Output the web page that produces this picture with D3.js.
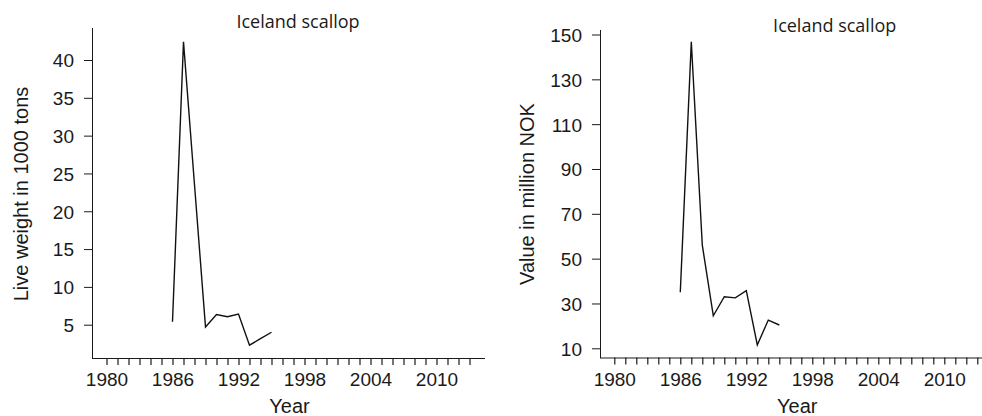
<!DOCTYPE html>
<html>
<head>
<meta charset="utf-8">
<script src="https://cdn.jsdelivr.net/npm/d3@7"></script>
<style>
  body { margin: 0; background: #fff; }
  .axis text { font-family: 'Liberation Sans', Arial, sans-serif; font-size: 19px; fill: #1a1a1a; }
  .axis line, .axis path { stroke: #1a1a1a; }
  .label { font-family: 'Liberation Sans', Arial, sans-serif; font-size: 20px; fill: #1a1a1a; }
  .title { font-family: 'Open Sans', sans-serif; font-size: 18px; fill: #1a1a1a; }
</style>
</head>
<body>
<script>
const years = [1986, 1987, 1988, 1989, 1990, 1991, 1992, 1993, 1994, 1995]
const liveWeight = [5.4, 42.4, 23.5, 4.7, 6.35, 6.05, 6.4, 2.3, 3.15, 4.0]
const valueNOK = [35, 146.8, 56, 24.5, 33, 32.5, 35.7, 11.5, 22.6, 20.4]
const yearTicks = d3.range(1980, 2014)
const yearLabels = [1980, 1986, 1992, 1998, 2004, 2010]
const weightTicks = [5, 10, 15, 20, 25, 30, 35, 40]
const valueTicks = [10, 30, 50, 70, 90, 110, 130, 150]

const svg = d3.select('body')
  .append('svg')
  .attr('width', 982)
  .attr('height', 416)

function drawPanel (params) {
  const {
    left,
    axisY,
    top,
    right,
    x1980,
    yTicks,
    yA,
    yB,
    values,
    title,
    titleX,
    titleY,
    yLabel,
    yLabelX,
  } = params

  const x = d3.scaleLinear().domain([1980, 2010]).range([x1980, x1980 + 330])
  const y = d3.scaleLinear().domain([yA[0], yB[0]]).range([yA[1], yB[1]])

  const g = svg.append('g')

  const xAxis = g.append('g')
    .attr('class', 'axis')
    .attr('transform', `translate(0,${axisY})`)
    .call(d3.axisBottom(x)
      .tickValues(yearTicks)
      .tickSize(7)
      .tickPadding(8)
      .tickFormat(d => yearLabels.includes(d) ? d : ''))
  xAxis.select('.domain').remove()
  xAxis.append('line')
    .attr('x1', left).attr('x2', right)
    .attr('y1', 0.5).attr('y2', 0.5)
  xAxis.selectAll('.tick line').attr('stroke-width', 1.2)

  const yAxis = g.append('g')
    .attr('class', 'axis')
    .attr('transform', `translate(${left},0)`)
    .call(d3.axisLeft(y)
      .tickValues(yTicks)
      .tickSize(8)
      .tickPadding(10))
  yAxis.select('.domain').remove()
  yAxis.append('line')
    .attr('x1', 0.5).attr('x2', 0.5)
    .attr('y1', top).attr('y2', axisY + 0.5)
  yAxis.selectAll('text').attr('dy', '0.36em')

  const line = d3.line()
    .x((d, i) => x(years[i]))
    .y(d => y(d))

  g.append('path')
    .datum(values)
    .attr('fill', 'none')
    .attr('stroke', '#111')
    .attr('stroke-width', 1.4)
    .attr('stroke-linejoin', 'miter')
    .attr('d', line)

  g.append('text')
    .attr('class', 'title')
    .attr('x', titleX)
    .attr('y', titleY)
    .attr('text-anchor', 'middle')
    .text(title)

  g.append('text')
    .attr('class', 'label')
    .attr('x', x(1980) + 183)
    .attr('y', 413)
    .attr('text-anchor', 'middle')
    .text('Year')

  g.append('text')
    .attr('class', 'label')
    .attr('transform', `translate(${yLabelX},194) rotate(-90)`)
    .attr('text-anchor', 'middle')
    .text(yLabel)
}

drawPanel({
  left: 92,
  axisY: 358,
  top: 28,
  right: 485,
  x1980: 106.5,
  yTicks: weightTicks,
  yA: [5, 324.7],
  yB: [40, 60],
  values: liveWeight,
  title: 'Iceland scallop',
  titleX: 298,
  titleY: 27.7,
  yLabel: 'Live weight in 1000 tons',
  yLabelX: 27.7,
})

drawPanel({
  left: 600,
  axisY: 357.5,
  top: 30,
  right: 982,
  x1980: 614.3,
  yTicks: valueTicks,
  yA: [10, 348.3],
  yB: [150, 34.5],
  values: valueNOK,
  title: 'Iceland scallop',
  titleX: 834.7,
  titleY: 32.3,
  yLabel: 'Value in million NOK',
  yLabelX: 534.3,
})
</script>
</body>
</html>
